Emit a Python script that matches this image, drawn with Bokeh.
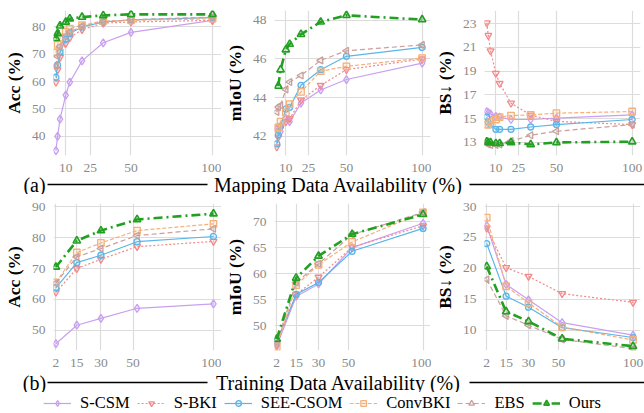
import numpy as np
from bokeh.plotting import figure
from bokeh.layouts import column, row
from bokeh.models import Range1d, FixedTicker, Legend, LegendItem
from bokeh.embed import file_html
from bokeh.resources import INLINE
from bokeh.core.properties import value

# ---------------- data ----------------
methods = ["S-CSM", "S-BKI", "SEE-CSOM", "ConvBKI", "EBS", "Ours"]

x_map = [4, 5, 6.5, 10, 12.5, 20, 33, 50, 100]
x_train = [2, 15, 30, 52.5, 100]
xticks_map = [10, 25, 50, 100]
xticks_train = [2, 15, 30, 50, 100]

# (a) mapping data availability - Acc
acc_map_scsm = [34.8, 40.0, 46.3, 55.1, 59.8, 67.6, 74.2, 78.0, 82.4]
acc_map_sbki = [59.8, 64.3, 68.9, 74.0, 76.1, 79.0, 81.4, 81.8, 82.4]
acc_map_see = [61.6, 66.1, 70.6, 75.5, 77.6, 80.0, 81.8, 82.6, 83.4]
acc_map_conv = [70.6, 73.4, 76.1, 78.2, 79.4, 80.6, 82.2, 82.4, 83.0]
acc_map_ebs = [65.8, 69.2, 72.8, 76.6, 78.2, 80.2, 81.8, 82.6, 83.6]
acc_map_ours = [75.8, 77.6, 80.4, 81.8, 83.0, 83.6, 84.2, 84.6, 84.6]

# (a) mIoU
miou_map_scsm = [42.38, 42.30, 42.24, 42.92, 42.75, 43.71, 44.39, 44.93, 45.78]
miou_map_sbki = [41.44, 41.95, 42.46, 42.75, 42.90, 43.86, 44.63, 45.44, 45.99]
miou_map_see = [41.60, 42.07, 42.50, 43.40, 43.49, 44.63, 45.44, 46.13, 46.59]
miou_map_conv = [42.40, 42.45, 42.75, 43.23, 43.66, 44.29, 45.36, 45.61, 46.04]
miou_map_ebs = [43.25, 43.50, 43.60, 44.42, 44.80, 45.14, 45.92, 46.42, 46.72]
miou_map_ours = [float("nan"), 44.59, 45.44, 46.47, 46.76, 47.27, 47.91, 48.25, 48.03]

# (a) BS
bs_map_scsm = [15.60, 15.50, 15.40, 15.20, 15.13, 14.93, 14.93, 15.04, 15.32]
bs_map_sbki = [23.05, 22.00, 20.70, 18.80, 17.97, 16.30, 15.30, 14.77, 14.50]
bs_map_see = [15.13, 14.70, 14.50, 14.10, 14.10, 14.10, 14.30, 14.50, 14.93]
bs_map_conv = [14.50, 14.50, 14.70, 14.93, 15.13, 15.26, 15.32, 15.46, 15.60]
bs_map_ebs = [12.92, 12.83, 12.78, 12.78, 12.83, 13.11, 13.60, 13.94, 14.50]
bs_map_ours = [13.06, 13.00, 13.00, 12.92, 12.92, 13.00, 12.83, 13.00, 13.06]

# (b) training data availability - Acc
acc_tr_scsm = [45.6, 51.6, 53.8, 57.1, 58.5]
acc_tr_sbki = [62.3, 70.0, 73.0, 77.1, 78.8]
acc_tr_see = [63.7, 71.9, 74.3, 78.7, 80.4]
acc_tr_conv = [65.5, 75.2, 78.3, 82.3, 84.5]
acc_tr_ebs = [65.3, 73.8, 76.5, 80.7, 82.9]
acc_tr_ours = [70.5, 79.0, 82.3, 85.9, 87.8]

# (b) mIoU
miou_tr_scsm = [46.1, 55.6, 58.0, 65.0, 69.7]
miou_tr_sbki = [46.3, 56.0, 59.3, 65.1, 69.2]
miou_tr_see = [47.0, 56.0, 58.3, 64.3, 68.7]
miou_tr_conv = [45.9, 57.8, 61.7, 66.1, 71.8]
miou_tr_ebs = [46.7, 58.3, 61.9, 67.5, 71.8]
miou_tr_ours = [47.4, 59.15, 63.4, 67.6, 71.4]

# (b) BS
bs_tr_scsm = [26.9, 17.4, 14.9, 11.2, 9.2]
bs_tr_sbki = [26.5, 20.1, 18.7, 15.9, 14.5]
bs_tr_see = [24.0, 15.5, 13.7, 10.4, 8.8]
bs_tr_conv = [28.2, 17.1, 14.4, 10.5, 8.4]
bs_tr_ebs = [18.2, 12.3, 10.8, 8.5, 7.0]
bs_tr_ours = [20.3, 13.0, 11.4, 8.6, 7.4]

# ---------------- styles ----------------
STY = {
    "S-CSM":    dict(color="#c9a0f0", dash="solid", marker="diamond", lw=1.2, size=8, angle=0.0),
    "S-BKI":    dict(color="#f28a8a", dash="2 2", marker="inverted_triangle", lw=1.2, size=7, angle=0.0),
    "SEE-CSOM": dict(color="#5ab6e8", dash="solid", marker="circle", lw=1.2, size=6, angle=0.0),
    "ConvBKI":  dict(color="#f6b07a", dash="4 2", marker="square", lw=1.2, size=6.5, angle=0.0),
    "EBS":      dict(color="#c8a09c", dash="5 3", marker="triangle", lw=1.2, size=7, angle=np.pi / 2),
    "Ours":     dict(color="#22a022", dash="9 4 2 4", marker="triangle", lw=2.6, size=7.5, angle=0.0),
}

TICK_FONT = "Liberation Serif"
LABEL_FONT = "Liberation Serif"


def draw(p, name, xs, ys):
    s = STY[name]
    xs = np.asarray(xs, dtype=float)
    ys = np.asarray(ys, dtype=float)
    l = p.line(xs, ys, line_color=s["color"], line_width=s["lw"], line_dash=s["dash"])
    m = p.scatter(xs, ys, marker=s["marker"], size=s["size"], angle=s["angle"],
                  line_color=s["color"], line_width=1.3 if name != "Ours" else 1.6,
                  fill_color=s["color"], fill_alpha=0.15)
    return l, m


def make_panel(width, height, border_left, border_right, top, bottom, xr, yr,
               xticks, yticks, ylabel, series, xs):
    p = figure(width=width, height=height, x_range=Range1d(*xr), y_range=Range1d(*yr),
               output_backend="svg", toolbar_location=None,
               min_border_left=border_left, min_border_right=border_right,
               min_border_top=top, min_border_bottom=bottom)
    p.outline_line_color = None
    p.background_fill_color = "white"
    p.xaxis.ticker = FixedTicker(ticks=xticks)
    p.yaxis.ticker = FixedTicker(ticks=yticks)
    p.axis.axis_line_color = None
    p.axis.major_tick_line_color = None
    p.axis.minor_tick_line_color = None
    p.axis.major_label_text_font = TICK_FONT
    p.axis.major_label_text_font_size = "13.5px"
    p.axis.major_label_text_color = "#8a8a8a"
    p.axis.major_label_standoff = 2
    p.yaxis.axis_label = ylabel
    p.yaxis.axis_label_text_font = LABEL_FONT
    p.yaxis.axis_label_text_font_style = "bold"
    p.yaxis.axis_label_text_font_size = "17.5px"
    p.yaxis.axis_label_text_color = "black"
    p.yaxis.axis_label_standoff = 5
    p.grid.grid_line_color = "#dcdcdc"
    p.grid.grid_line_width = 1.2
    for name, ys in zip(methods, series):
        draw(p, name, xs, ys)
    return p


xr_map = (2.5, 105.5)
xr_tr = (0.5, 105.0)

# row (a): height 174, plot area 10..157
RA = dict(height=174, top=10, bottom=17)
# row (b): height 178, plot area 203..350 (page)
RB = dict(height=178, top=9, bottom=22)

a1 = make_panel(221, RA["height"], 46, 0, RA["top"], RA["bottom"], xr_map, (33.0, 86.0), xticks_map,
                [40, 50, 60, 70, 80], "Acc (%)",
                [acc_map_scsm, acc_map_sbki, acc_map_see, acc_map_conv, acc_map_ebs, acc_map_ours], x_map)
a2 = make_panel(210, RA["height"], 36, 1, RA["top"], RA["bottom"], xr_map, (41.0, 48.5), xticks_map,
                [42, 44, 46, 48], "mIoU (%)",
                [miou_map_scsm, miou_map_sbki, miou_map_see, miou_map_conv, miou_map_ebs, miou_map_ours], x_map)
a3 = make_panel(213, RA["height"], 36, 4, RA["top"], RA["bottom"], xr_map, (11.9, 24.1), xticks_map,
                [13, 15, 17, 19, 21, 23], "BS\u2193 (%)",
                [bs_map_scsm, bs_map_sbki, bs_map_see, bs_map_conv, bs_map_ebs, bs_map_ours], x_map)

b1 = make_panel(221, RB["height"], 46, 0, RB["top"], RB["bottom"], xr_tr, (43.4, 91.1), xticks_train,
                [50, 60, 70, 80, 90], "Acc (%)",
                [acc_tr_scsm, acc_tr_sbki, acc_tr_see, acc_tr_conv, acc_tr_ebs, acc_tr_ours], x_train)
b2 = make_panel(210, RB["height"], 36, 1, RB["top"], RB["bottom"], xr_tr, (45.2, 73.5), xticks_train,
                [50, 55, 60, 65, 70], "mIoU (%)",
                [miou_tr_scsm, miou_tr_sbki, miou_tr_see, miou_tr_conv, miou_tr_ebs, miou_tr_ours], x_train)
b3 = make_panel(213, RB["height"], 36, 4, RB["top"], RB["bottom"], xr_tr, (6.7, 30.5), xticks_train,
                [10, 15, 20, 25, 30], "BS\u2193 (%)",
                [bs_tr_scsm, bs_tr_sbki, bs_tr_see, bs_tr_conv, bs_tr_ebs, bs_tr_ours], x_train)

W = 644


def divider(tag, title):
    H = 20
    p = figure(width=W, height=H, x_range=Range1d(0, W), y_range=Range1d(0, H),
               output_backend="svg", toolbar_location=None, min_border=0)
    p.axis.visible = False
    p.grid.visible = False
    p.outline_line_color = None
    p.text(x=[34], y=[H / 2], text=[tag], text_align="center", text_baseline="middle",
           text_font=value(LABEL_FONT), text_font_size=value("20px"), text_color="black")
    p.text(x=[338], y=[H / 2], text=[title], text_align="center", text_baseline="middle",
           text_font=value(LABEL_FONT), text_font_size=value("20px"), text_color="black")
    p.segment(x0=[47, 469], x1=[207, W], y0=[H / 2, H / 2], y1=[H / 2, H / 2],
              line_color="black", line_width=1.4)
    return p


div_a = divider("(a)", "Mapping Data Availability (%)")
div_b = divider("(b)", "Training Data Availability (%)")

# legend figure (dummy renderers placed outside the visible range)
lg = figure(width=W, height=21, x_range=Range1d(0, 1), y_range=Range1d(0, 1),
            output_backend="svg", toolbar_location=None, min_border=0)
lg.axis.visible = False
lg.grid.visible = False
lg.outline_line_color = None
items = []
for name in methods:
    l, m = draw(lg, name, [-10, -9], [-10, -10])
    items.append(LegendItem(label=name, renderers=[l, m]))
legend = Legend(items=items, orientation="horizontal", location="center",
                label_text_font=LABEL_FONT, label_text_font_size="16.5px",
                label_text_color="black", glyph_width=28, glyph_height=14,
                label_standoff=9, spacing=7, padding=0, margin=0,
                border_line_alpha=0, background_fill_alpha=0)
lg.add_layout(legend, "center")

layout = column(row(a1, a2, a3, spacing=0), div_a, row(b1, b2, b3, spacing=0), div_b, lg, spacing=0)

open("out.html", "w").write(file_html(layout, INLINE))
